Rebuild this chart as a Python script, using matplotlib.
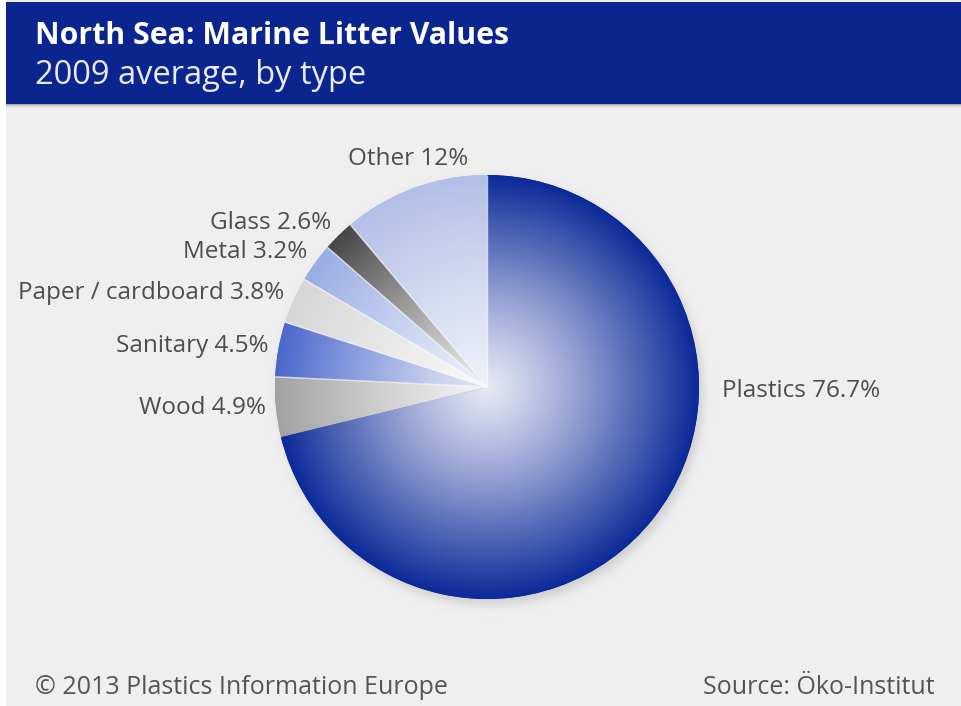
import numpy as np
import matplotlib
matplotlib.use("Agg")
import matplotlib.pyplot as plt
from matplotlib.patches import Rectangle
from matplotlib.colors import to_rgb

# ---- data ----
categories = ["Plastics", "Wood", "Sanitary", "Paper / cardboard", "Metal", "Glass", "Other"]
shares = [76.7, 4.9, 4.5, 3.8, 3.2, 2.6, 12]
share_labels = ["76.7%", "4.9%", "4.5%", "3.8%", "3.2%", "2.6%", "12%"]

title = "North Sea: Marine Litter Values"
subtitle = "2009 average, by type"
footer_left = "\u00a9 2013 Plastics Information Europe"
footer_right = "Source: \u00d6ko-Institut"

# rim colour / centre colour for each wedge's radial shading
rim_colors = ["#0b2a98", "#a2a2a2", "#4a68cc", "#d6d6d6", "#98ace4", "#474747", "#b2bfe6"]
centre_colors = ["#e6e8f5", "#f4f4f4", "#e6eaf8", "#f8f8f8", "#eef1fa", "#eeeeee", "#eef1fa"]

W, H = 961, 706
fig = plt.figure(figsize=(W / 100, H / 100), dpi=100)
fig.patch.set_facecolor("white")
ax = fig.add_axes([0, 0, 1, 1])


def Y(y):
    return H - y


FONT = ["Open Sans", "DejaVu Sans"]

# page background and header band
ax.add_patch(Rectangle((6, 0), W - 6, H, facecolor="#efefef", edgecolor="none", zorder=0))
ax.add_patch(Rectangle((6, Y(104)), W - 6, 102, facecolor="#0a268e", edgecolor="none", zorder=1))
# soft shade below the band
for i, a in enumerate([0.35, 0.2, 0.1, 0.05]):
    ax.add_patch(Rectangle((6, Y(105 + i)), W - 6, 1, facecolor="#303030", alpha=a,
                           edgecolor="none", zorder=1))

ax.text(35, Y(36), title, color="white", fontsize=21.8, fontweight="bold",
        family=FONT, va="center", ha="left", zorder=3)
ax.text(35, Y(76), subtitle, color="#e8ecf8", fontsize=23.5,
        family=FONT, va="center", ha="left", zorder=3)

# ---- pie ----
cx, cy, R = 487, Y(387), 212

# drop shadow
n = 600
ext = [cx - R - 40, cx + R + 40, cy - R - 40, cy + R + 40]
xs = np.linspace(ext[0], ext[1], n)
ys = np.linspace(ext[3], ext[2], n)
XX, YY = np.meshgrid(xs, ys)
rs = np.hypot(XX - (cx + 4), YY - (cy - 6))
alpha = 0.22 * 0.5 * (1 - np.tanh((rs - R) / 6.0))
shadow = np.zeros((n, n, 4))
shadow[..., :3] = 0.35
shadow[..., 3] = alpha
ax.imshow(shadow, extent=ext, zorder=2, interpolation="bilinear")

wedges, _ = ax.pie(shares, colors=rim_colors, startangle=90, counterclock=False,
                   center=(cx, cy), radius=R, frame=True,
                   wedgeprops=dict(linewidth=0, zorder=3))
ax.set_xlim(0, W)
ax.set_ylim(0, H)
ax.set_aspect("equal")
ax.axis("off")

# radial shading, clipped to each wedge
m = 700
gx = np.linspace(cx - R, cx + R, m)
gy = np.linspace(cy + R, cy - R, m)
GX, GY = np.meshgrid(gx, gy)
rr = np.clip(np.hypot(GX - cx, GY - cy) / R, 0, 1)
for w, c1, c0 in zip(wedges, rim_colors, centre_colors):
    c0 = np.array(to_rgb(c0))
    c1 = np.array(to_rgb(c1))
    t = rr[..., None] ** 1.15
    img = c0 + (c1 - c0) * t
    im = ax.imshow(img, extent=[cx - R, cx + R, cy - R, cy + R], zorder=4,
                   interpolation="bilinear")
    im.set_clip_path(w)

# thin light separators between the small wedges
for w in wedges[1:]:
    theta = np.deg2rad(w.theta1)
    ax.plot([cx, cx + R * np.cos(theta)], [cy, cy + R * np.sin(theta)],
            color="white", lw=1.0, alpha=0.7, zorder=5, solid_capstyle="butt")

# ---- labels ----
label_color = "#4d4d4d"
LABEL_SIZE = 17.5
for i, (w, name, lab) in enumerate(zip(wedges, categories, share_labels)):
    mid_deg = (w.theta1 + w.theta2) / 2
    mid = np.deg2rad(mid_deg)
    text = f"{name} {lab}"
    if i == 0:
        ax.text(722, Y(391), text, color=label_color, fontsize=LABEL_SIZE, family=FONT,
                ha="left", va="center", zorder=6)
    elif 60 <= mid_deg % 360 <= 120:
        r = R + 18
        ax.text(cx + r * np.cos(mid), cy + r * np.sin(mid), text, color=label_color,
                fontsize=LABEL_SIZE, family=FONT, ha="center", va="bottom", zorder=6)
    else:
        r = R + 10
        lx = cx + r * np.cos(mid)
        ly = cy + r * np.sin(mid) + 8 * max(0.0, np.sin(mid))
        ax.text(lx, ly, text, color=label_color, fontsize=LABEL_SIZE, family=FONT,
                ha="right", va="center", zorder=6)

ax.text(35, Y(687), footer_left, color="#555555", fontsize=18, family=FONT,
        ha="left", va="center", zorder=6)
ax.text(935, Y(687), footer_right, color="#555555", fontsize=18, family=FONT,
        ha="right", va="center", zorder=6)

fig.savefig("out.png", dpi=100, facecolor=fig.get_facecolor())
